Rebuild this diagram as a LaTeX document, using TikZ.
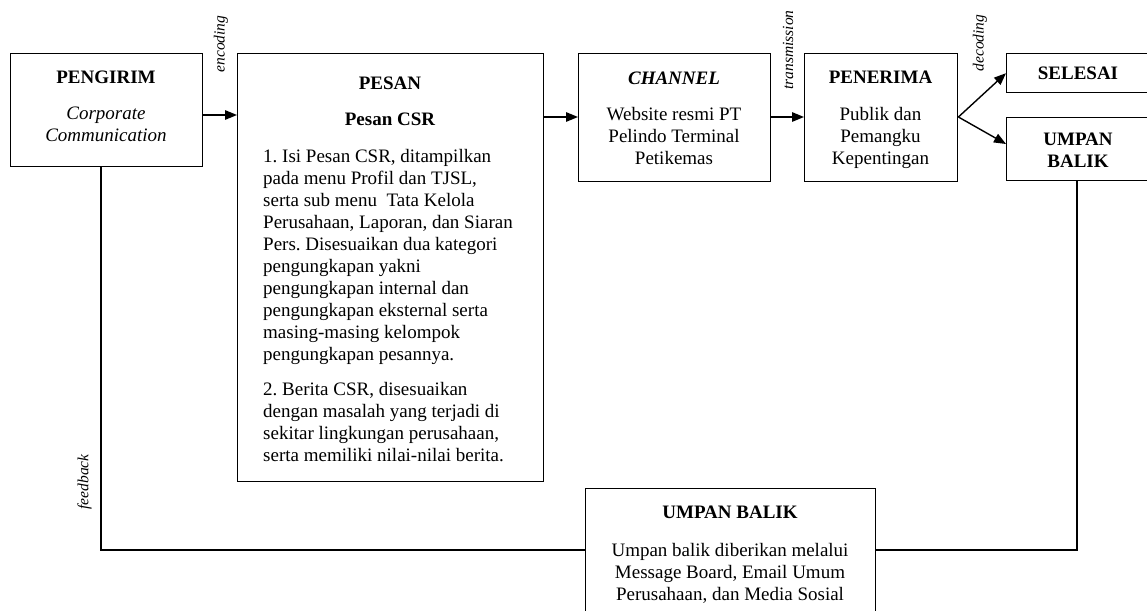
\documentclass[tikz,border=0pt]{standalone}
\usepackage{fontspec}
\setmainfont{Liberation Serif}
\usetikzlibrary{arrows.meta}
\frenchspacing
\begin{document}
\begin{tikzpicture}[x=1pt,y=-1pt,
  box/.style={draw,line width=1.4pt,inner sep=0pt,anchor=north west},
  txt/.style={font=\fontsize{19}{22}\selectfont,inner sep=0pt,anchor=base,align=center},
  ttl/.style={txt,font=\fontsize{19}{22}\selectfont\bfseries},
  lbl/.style={font=\fontsize{15.5}{18}\selectfont\itshape,inner sep=0pt,rotate=90},
  conn/.style={line width=1.4pt},
  arr/.style={conn,-{Triangle[length=12pt,width=9.5pt]}}]
\useasboundingbox (0,0) rectangle (1147,610);
% boxes
\node[box,minimum width=192pt,minimum height=113pt] (pengirim) at (10,53) {};
\node[box,minimum width=306pt,minimum height=428pt] (pesan) at (237,53) {};
\node[box,minimum width=192pt,minimum height=128pt] (channel) at (578,53) {};
\node[box,minimum width=153pt,minimum height=128pt] (penerima) at (804,53) {};
\node[box,minimum width=144pt,minimum height=39pt] (selesai) at (1006,53) {};
\node[box,minimum width=144pt,minimum height=63pt] (umpan) at (1006,117) {};
\node[box,minimum width=290pt,minimum height=132pt] (fb) at (585,488) {};
% texts (multi-line nodes: base = last line's baseline)
\node[ttl] (t1) at (106,83) {PENGIRIM};
\node[txt,font=\fontsize{19}{22}\selectfont\itshape] (t2) at (106,141) {Corporate\\Communication};
\node[ttl] (t3) at (390,89) {PESAN};
\node[ttl] (t4) at (390,125) {Pesan CSR};
\node[txt,align=left,anchor=base west] (t5) at (263,461) {1. Isi Pesan CSR, ditampilkan\\pada menu Profil dan TJSL,\\serta sub menu\ \ Tata Kelola\\Perusahaan, Laporan, dan Siaran\\Pers. Disesuaikan dua kategori\\pengungkapan yakni\\pengungkapan internal dan\\pengungkapan eksternal serta\\masing-masing kelompok\\pengungkapan pesannya.\\[13pt]2. Berita CSR, disesuaikan\\dengan masalah yang terjadi di\\sekitar lingkungan perusahaan,\\serta memiliki nilai-nilai berita.};
\node[ttl,font=\fontsize{19}{22}\selectfont\bfseries\itshape] (t6) at (674,84) {CHANNEL};
\node[txt] (t7) at (674,164) {Website resmi PT\\Pelindo Terminal\\Petikemas};
\node[ttl] (t8) at (880.5,83) {PENERIMA};
\node[txt] (t9) at (880.5,164) {Publik dan\\Pemangku\\Kepentingan};
\node[ttl] (t10) at (1078,79) {SELESAI};
\node[ttl] (t11) at (1078,167) {UMPAN\\BALIK};
\node[ttl] (t12) at (730,518) {UMPAN BALIK};
\node[txt] (t13) at (730,600) {Umpan balik diberikan melalui\\Message Board, Email Umum\\Perusahaan, dan Media Sosial};
% rotated labels
\node[lbl] (l1) at (221,44) {encoding};
\node[lbl] (l2) at (788,50) {transmission};
\node[lbl] (l3) at (980,43) {decoding};
\node[lbl] (l4) at (84.5,482) {feedback};
% helper coordinates
\coordinate (ya) at (0,115);
\coordinate (yb) at (0,117);
\coordinate (yu) at (0,144);
\coordinate (yf) at (0,550);
\coordinate (xf) at (101,0);
\coordinate (xr) at (1077,0);
% connectors
\draw[arr] (pengirim.east |- ya) -- (pesan.west |- ya);
\draw[arr] (pesan.east |- yb) -- (channel.west |- yb);
\draw[arr] (channel.east |- yb) -- (penerima.west |- yb);
\draw[arr] (penerima.east |- yb) -- (selesai.west);
\draw[arr] (penerima.east |- yb) -- (umpan.west |- yu);
\draw[conn] (pengirim.south -| xf) |- (fb.west |- yf);
\draw[conn] (umpan.south -| xr) |- (fb.east |- yf);
\end{tikzpicture}
\end{document}
